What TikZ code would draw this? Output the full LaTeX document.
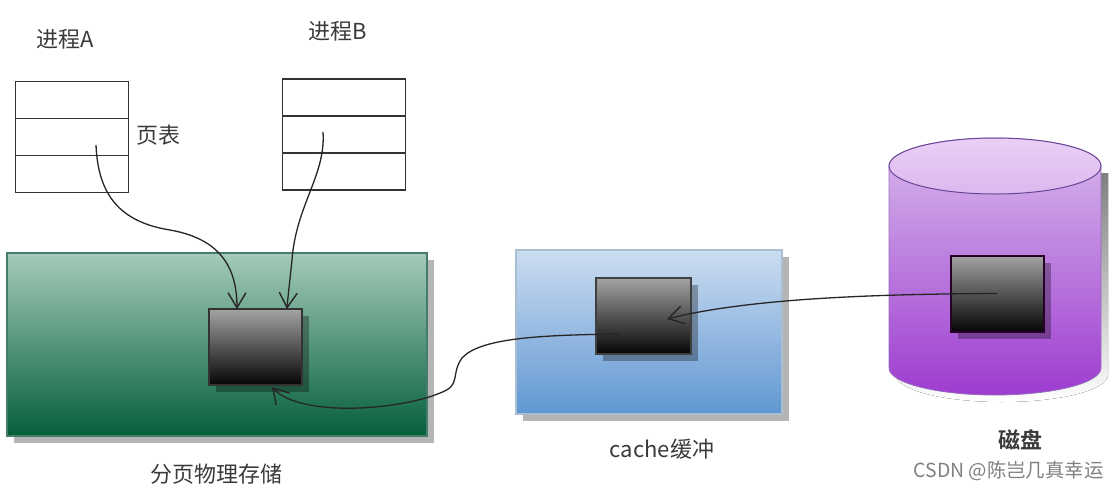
\documentclass[tikz,border=0pt]{standalone}
\usepackage{fontspec}
\setmainfont{Noto Sans CJK SC}
\newfontfamily\boldcjk{Noto Sans CJK SC Bold}
\usetikzlibrary{arrows.meta,shadows,calc}
\definecolor{txt}{HTML}{3A3A3A}
\definecolor{shade}{HTML}{B4B6B6}
\definecolor{gtop}{RGB}{164,203,186}
\definecolor{gbot}{RGB}{5,95,58}
\definecolor{gedge}{RGB}{70,125,105}
\definecolor{btop}{RGB}{204,221,241}
\definecolor{bbot}{RGB}{96,151,210}
\definecolor{bedge}{RGB}{170,190,210}
\definecolor{ptop}{RGB}{216,186,236}
\definecolor{pbot}{RGB}{158,60,208}
\definecolor{pedge}{RGB}{150,110,190}
\definecolor{etop}{RGB}{234,208,246}
\definecolor{ebot}{RGB}{220,184,238}
\definecolor{eedge}{RGB}{105,70,150}
\tikzset{
  x=1pt,y=-1pt,
  rowbox/.style={draw=black!80,line width=1.2pt,fill=white,minimum width=#1,minimum height=37pt,inner sep=0,outer sep=0},
  panel/.style={inner sep=0,outer sep=0,line width=1.2pt,general shadow={fill=shade,shadow xshift=7pt,shadow yshift=-7pt}},
  chip/.style={inner sep=0,outer sep=0,minimum width=#1,minimum height=76pt,line width=2pt,
     top color=black!36,bottom color=black!98,
     general shadow={fill=black,fill opacity=0.3,shadow xshift=7pt,shadow yshift=-7pt}},
  lab/.style={text=txt,font=\fontsize{22}{24}\selectfont,inner sep=0},
  link/.style={draw=black!85,line width=1.3pt,-{Straight Barb[length=15pt,width=18pt,line width=1.4pt]}},
}
\begin{document}
\begin{tikzpicture}
\useasboundingbox (0,0) rectangle (1119,491);
% page tables
\node[rowbox=113pt] (a1) at (72,100) {};
\node[rowbox=113pt] (a2) at (72,137) {};
\node[rowbox=113pt] (a3) at (72,174) {};
\node[rowbox=123pt] (b1) at (344,97.5) {};
\node[rowbox=123pt] (b2) at (344,134.5) {};
\node[rowbox=123pt] (b3) at (344,171.5) {};
% panels
\node[panel,minimum width=420pt,minimum height=183pt,draw=gedge,top color=gtop,bottom color=gbot] (pg) at (217,344.5) {};
\node[panel,minimum width=266pt,minimum height=164pt,draw=bedge,top color=btop,bottom color=bbot] (ca) at (649,332) {};
% disk
\fill[shade] (896,173) -- (896,375) arc[start angle=180,end angle=0,x radius=106,y radius=27] -- (1108,173) -- cycle;
\path[top color=ptop,bottom color=pbot,draw=pedge,line width=.8pt]
  (889,166) -- (889,368) arc[start angle=180,end angle=0,x radius=106,y radius=27] -- (1101,166) arc[start angle=0,end angle=-180,x radius=106,y radius=28] -- cycle;
\path[top color=etop,bottom color=ebot,draw=eedge,line width=1pt]
  (995,166) ellipse[x radius=106,y radius=28];
% chips
\node[chip=93pt,draw=black!80] (cp) at (255,347) {};
\node[chip=95pt,draw=black!75] (cc) at (643,316) {};
\node[chip=93pt,draw=black!70!violet] (cd) at (997,293.5) {};
% connector ends
\coordinate (sa) at ($(a2.center)+(24,8)$);
\coordinate (sb) at ($(b2.center)+(-21,-2.5)$);
\coordinate (sc) at ($(cc.center)+(-23,18)$);
\coordinate (ec) at ($(cc.center)+(24,3)$);
\coordinate (ep) at ($(cp.south)+(17,2)$);
\coordinate (pa) at ($(cp.north)+(-18,0)$);
\coordinate (pb) at ($(cp.north)+(32,0)$);
% connectors
\draw[link] (sa) .. controls (98,195) and (120,222) .. (170,230) .. controls (215,238) and (237,262) .. (pa);
\draw[link] (sb) .. controls (326,175) and (296,205) .. (292,260) .. controls (290,280) and (288,295) .. (pb);
\draw[link] (sc) .. controls (540,335) and (480,338) .. (462,358) .. controls (450,375) and (462,385) .. (440,393) .. controls (400,410) and (300,418) .. (ep);
\draw[link] (cd.center) .. controls (880,294) and (750,298) .. (ec);
% labels
\node[lab] (la) at (65.5,39) {进程A};
\node[lab] (lb) at (338,31) {进程B};
\node[lab] (lt) at (158,135) {页表};
\node[lab] (lp) at (216,474) {分页物理存储};
\node[lab] (lc) at (662,449) {cache缓冲};
\node[lab,font=\boldcjk\fontsize{22}{24}\selectfont] (ld) at (1020,440) {磁盘};
\node[text=black!50,font=\fontsize{19.4}{22}\selectfont,inner sep=0] (wm) at (1008.5,471) {CSDN @陈岂几真幸运};
\end{tikzpicture}
\end{document}
